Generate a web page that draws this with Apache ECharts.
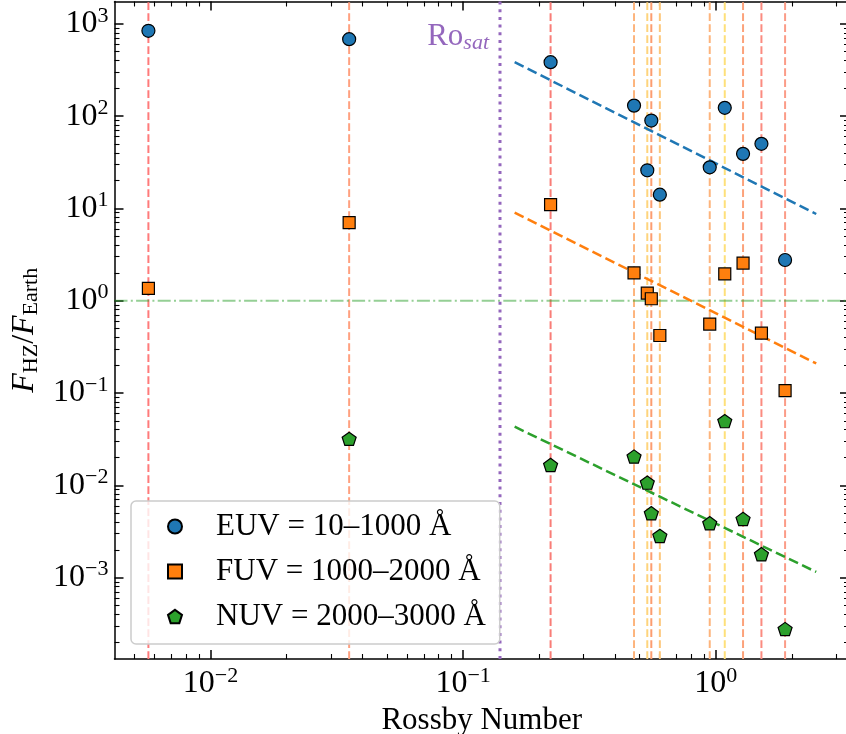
<!DOCTYPE html>
<html><head><meta charset="utf-8">
<script src="https://cdn.jsdelivr.net/npm/echarts@6/dist/echarts.min.js"></script>
<style>html,body{margin:0;padding:0;background:#fff}#c{width:846px;height:734px}</style>
</head><body><div id="c"></div>
<script>
// ---- data ----
const rossby = [0.00568, 0.0354, 0.222, 0.475, 0.536, 0.556, 0.601, 0.947, 1.086, 1.283, 1.517, 1.882];
const euv = [841, 682, 384, 130, 25.9, 89.6, 14.1, 27.9, 123, 39.0, 50.1, 2.76];
const fuv = [1.36, 7.0, 11.0, 2.0, 1.21, 1.05, 0.42, 0.559, 1.95, 2.56, 0.446, 0.106];
const nuv = [null, 0.0319, 0.0166, 0.0205, 0.0107, 0.00498, 0.00283, 0.00388, 0.0496, 0.00432, 0.00179, 0.000277];
const fitX = [0.16, 2.5];
const euvFit = [384, 8.7];
const fuvFit = [9.0, 0.209];
const nuvFit = [0.0431, 0.00115];
const roSat = 0.14;
const roSatLabelY = 720;
const xRange = [0.00417, 3.37];
const yRange = [0.0001312, 1746];
const xMajor = [0.01, 0.1, 1];
const xMinor = [0.005,0.006,0.007,0.008,0.009,0.02,0.03,0.04,0.05,0.06,0.07,0.08,0.09,0.2,0.3,0.4,0.5,0.6,0.7,0.8,0.9,2,3];
const yMajor = [0.001, 0.01, 0.1, 1, 10, 100, 1000];
const yMinor = [];
[0.0001,0.001,0.01,0.1,1,10,100].forEach(d=>{for(let k=2;k<=9;k++){const v=+(d*k).toPrecision(3); if(v>yRange[0]&&v<yRange[1]) yMinor.push(v);}});
const seriesNames = ['EUV = 10–1000 Å', 'FUV = 1000–2000 Å', 'NUV = 2000–3000 Å'];
// ---- styles ----
const vColors = ['#ff7a7a','#ffa07f','#f97d77','#fdb47c','#fed47c','#fc9d70','#fdc67a','#fdb47c','#fee07a','#fca27a','#fb8b80','#fb9c88'];
const FONT = "'Liberation Serif','DejaVu Serif',serif";
const markerColors = ['#1f77b4','#ff7f0e','#2ca02c'];
const pentagon = 'path://M0,-1 L0.951,-0.309 L0.588,0.809 L-0.588,0.809 L-0.951,-0.309 Z';

function expLabel(v){
  const e = Math.round(Math.log10(v));
  return '{b|10}{s|' + String(e).replace('-', '\u2212') + '}';
}
const labRich = {
  b: {fontSize: 32, fontFamily: FONT, color:'#000', lineHeight: 38, verticalAlign:'middle'},
  s: {fontSize: 22, fontFamily: FONT, color:'#000', lineHeight: 22, verticalAlign:'top'}
};

function mkAxis(pos, range, vals, len, isMajor, showLine, labels, extra){
  return Object.assign({
    type: 'log', logBase: 10, position: pos, min: range[0], max: range[1],
    splitLine: {show:false},
    axisLine: {show: showLine, onZero:false, lineStyle:{color:'#000', width:1.5}},
    axisTick: {show:true, inside:true, length: len, customValues: vals, lineStyle:{color:'#000', width: isMajor?1.5:1.1}},
    axisLabel: labels ? {show:true, customValues: vals, formatter: expLabel, rich: labRich, margin: 6} : {show:false},
    minorTick:{show:false}
  }, extra||{});
}

const xAxes = [
  mkAxis('bottom', xRange, xMajor, 9, true, true, true, {
    name:'Rossby Number', nameLocation:'middle', nameGap: 30,
    nameTextStyle:{fontSize:31, fontFamily:FONT, color:'#000', verticalAlign:'top'}
  }),
  mkAxis('bottom', xRange, xMinor, 5, false, false, false),
  mkAxis('top', xRange, xMajor, 9, true, true, false),
  mkAxis('top', xRange, xMinor, 5, false, false, false)
];
const yAxes = [
  mkAxis('left', yRange, yMajor, 9, true, true, true, {
    name:'{i|F}{sb|HZ}{n|/}{i|F}{sb|Earth}', nameLocation:'middle', nameGap: 66, nameRotate: 90,
    nameTextStyle:{rich:{
      i:{fontSize:32, fontFamily:FONT, fontStyle:'italic', color:'#000', lineHeight:36, verticalAlign:'middle'},
      n:{fontSize:32, fontFamily:FONT, color:'#000', lineHeight:36, verticalAlign:'middle'},
      sb:{fontSize:22, fontFamily:FONT, color:'#000', lineHeight:22, verticalAlign:'bottom'}
    }}
  }),
  mkAxis('left', yRange, yMinor, 5, false, false, false),
  mkAxis('right', yRange, yMajor, 9, true, true, false),
  mkAxis('right', yRange, yMinor, 5, false, false, false)
];

const series = [];
rossby.forEach((r, i) => {
  series.push({
    type:'line', silent:true, symbol:'none', z:1, animation:false,
    data:[[r, yRange[0]], [r, yRange[1]]],
    lineStyle:{color: vColors[i], width:2, type:[7.7,3.3]}
  });
});
series.push({
  type:'line', silent:true, symbol:'none', z:1, animation:false,
  data:[[xRange[0], 1], [xRange[1], 1]],
  lineStyle:{color:'rgba(44,160,44,0.5)', width:2, type:[13,3.3,2,3.3]}
});
series.push({
  type:'line', silent:true, symbol:'none', z:2, animation:false,
  data:[[roSat, yRange[0]], [roSat, yRange[1]]],
  lineStyle:{color:'#9467bd', width:3, type:[3,4.7], cap:'butt'},
  markPoint:{
    symbol:'circle', symbolSize:0, silent:true, animation:false,
    data:[{coord:[roSat, roSatLabelY]}],
    label:{show:true, position:'left', distance:11, formatter:'{r|Ro}{s|sat}',
      rich:{
        r:{fontSize:31, fontFamily:FONT, color:'#9467bd', lineHeight:34, verticalAlign:'middle'},
        s:{fontSize:22, fontFamily:FONT, fontStyle:'italic', color:'#9467bd', lineHeight:22, verticalAlign:'bottom'}
      }}
  }
});
[[euvFit, 0],[fuvFit, 1],[nuvFit, 2]].forEach(([f, k]) => {
  series.push({
    type:'line', silent:true, symbol:'none', z:3, animation:false,
    data:[[fitX[0], f[0]], [fitX[1], f[1]]],
    lineStyle:{color: markerColors[k], width:2.5, type:[10,4.5]}
  });
});
const symbols = ['circle', 'rect', pentagon];
const sizes = [13, 12, 14];
[euv, fuv, nuv].forEach((vals, k) => {
  series.push({
    name: seriesNames[k], type:'scatter', z:5, animation:false,
    symbol: symbols[k], symbolSize: sizes[k], symbolKeepAspect: true,
    itemStyle:{color: markerColors[k], borderColor:'#000', borderWidth:1.2, opacity:1},
    data: rossby.map((r, i) => vals[i] == null ? null : [r, vals[i]]).filter(d => d)
  });
});

const chart = echarts.init(document.getElementById('c'), null, {renderer:'canvas'});
chart.setOption({
  animation:false,
  backgroundColor:'#fff',
  grid:{left:114.5, top:1.5, right:-3, bottom:75, containLabel:false, outerBoundsMode:'none'},
  xAxis: xAxes,
  yAxis: yAxes,
  legend:{
    data: seriesNames, orient:'vertical', left:131, top:501,
    backgroundColor:'rgba(255,255,255,0.8)', borderColor:'#cccccc', borderWidth:1.5, borderRadius:5,
    padding:[8,14,10,36], itemGap:10, itemWidth:14, itemHeight:14,
    textStyle:{fontSize:31, fontFamily:FONT, color:'#000', lineHeight:35, padding:[0,0,0,29]},
    selectedMode:false, z:10
  },
  series: series
});
</script>
</body></html>
